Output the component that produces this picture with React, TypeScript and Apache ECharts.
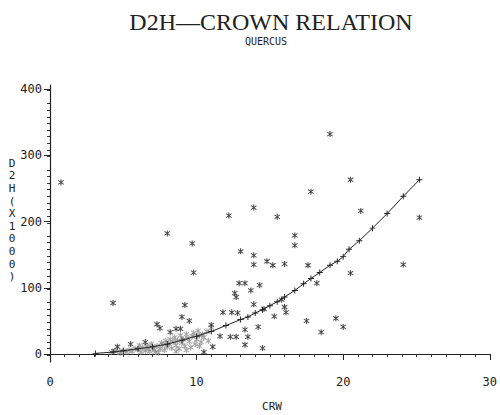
import React, { useEffect, useRef } from "react";
import * as echarts from "echarts";

const titleText = "D2H\u2014CROWN RELATION";
const subtitleText = "QUERCUS";
const xName = "CRW";
const yNameChars = ["D", "2", "H", "(", "X", "1", "0", "0", "0", ")"];

const xStep = 10;
const yStep = 100;
const yTicks = [0, 100, 200, 300, 400];

// scattered observations (CRW, D2H x1000)
const observed: [number, number][] = [
  [0.75, 259], [8.0, 182], [12.2, 209], [19.1, 332], [20.5, 263], [17.8, 245],
  [13.9, 221], [15.5, 207], [21.2, 216], [16.7, 179], [16.7, 164], [25.2, 206],
  [24.1, 135], [9.7, 167], [13.0, 155], [13.9, 149], [13.9, 135], [14.8, 140],
  [15.2, 134], [16.0, 136], [17.6, 134], [20.5, 122], [18.2, 107], [14.3, 104],
  [13.7, 96], [9.8, 123], [12.9, 107], [13.3, 107], [12.6, 92], [12.7, 86],
  [13.9, 75], [15.3, 57], [16.0, 71], [16.1, 63], [17.5, 50], [19.5, 54],
  [20.0, 41], [18.5, 33], [14.2, 41], [14.5, 9], [13.5, 26], [4.3, 77],
  [9.2, 74], [9.0, 56], [9.5, 50], [7.3, 45], [7.5, 39], [8.2, 33], [8.6, 38],
  [8.9, 38], [11.8, 63], [12.4, 63], [11.0, 44], [11.6, 27], [11.1, 11],
  [12.3, 26], [12.7, 26], [13.3, 14], [13.3, 37], [10.5, 3], [5.5, 15],
  [4.6, 11], [6.5, 18], [12.8, 62], [14.6, 68], [15.8, 82],
];

// dense low cluster (drawn greyish in the print)
const cluster: [number, number][] = [
  [4.2, 3], [4.4, 5], [4.6, 4], [4.8, 2], [5.0, 5], [5.2, 3], [5.4, 6], [5.6, 4],
  [5.8, 8], [6.0, 7], [6.2, 3], [6.3, 10], [6.5, 5], [6.6, 12], [6.7, 8], [6.8, 4],
  [6.9, 15], [7.0, 10], [7.1, 6], [7.2, 3], [7.3, 12], [7.5, 8], [7.6, 17],
  [7.7, 14], [7.8, 6], [7.9, 20], [8.0, 11], [8.1, 16], [8.2, 22], [8.3, 9],
  [8.4, 18], [8.5, 25], [8.6, 13], [8.7, 20], [8.8, 8], [8.9, 28], [9.0, 17],
  [9.1, 22], [9.2, 12], [9.3, 30], [9.4, 24], [9.5, 19], [9.6, 10], [9.7, 27],
  [9.8, 32], [9.9, 15], [10.0, 22], [10.1, 35], [10.2, 28], [10.3, 18],
  [10.4, 30], [10.5, 25], [10.7, 34], [10.8, 20], [11.0, 40], [6.1, 13],
  [7.4, 2], [8.6, 4], [9.3, 6], [10.2, 12],
];

// fitted curve
const fitted: [number, number][] = [
  [3.1, 1], [4.3, 3], [5.0, 5], [6.0, 8], [7.0, 11], [8.0, 15], [9.0, 21],
  [10.0, 27], [11.0, 34], [12.0, 43], [13.0, 52], [13.5, 56], [14.0, 62],
  [14.5, 67], [15.0, 73], [15.5, 79], [16.0, 86], [16.7, 96], [17.3, 106],
  [17.8, 114], [18.4, 123], [19.1, 134], [19.6, 140], [20.0, 147], [20.4, 158],
  [21.1, 171], [22.0, 190], [23.0, 212], [24.1, 238], [25.2, 263],
];

const asteriskPath =
  "path://M4.2,0H5.8V10H4.2Z M0.5,2.3L1.3,1L9.5,7.7L8.7,9Z M0.5,7.7L8.7,1L9.5,2.3L1.3,9Z";
const plusPath = "path://M4.2,0H5.8V10H4.2Z M0,4.2H10V5.8H0Z";

const monoFont = "'DejaVu Sans Mono', monospace";

export default function App() {
  const ref = useRef<HTMLDivElement>(null);
  useEffect(() => {
    if (!ref.current) return;
    const chart = echarts.init(ref.current, null, { renderer: "svg" });
    chart.setOption({
      animation: false,
      backgroundColor: "#ffffff",
      grid: { left: 50, right: 7, top: 85, bottom: 53 },
      graphic: [
        {
          type: "text",
          x: 271,
          y: 10,
          style: {
            text: titleText,
            font: "24px 'Liberation Serif', serif",
            fill: "#222",
            align: "center",
          },
        },
        {
          type: "text",
          x: 266,
          y: 36,
          style: {
            text: subtitleText,
            font: "10px " + monoFont,
            fill: "#222",
            align: "center",
          },
        },
        {
          type: "text",
          x: 12,
          y: 157,
          style: {
            text: yNameChars.join("\n"),
            font: "11px " + monoFont,
            lineHeight: 12.6,
            fill: "#222",
            align: "center",
          },
        },
        {
          type: "text",
          x: 272,
          y: 401,
          style: {
            text: xName,
            font: "11px " + monoFont,
            fill: "#222",
            align: "center",
          },
        },
      ],
      xAxis: [
        {
          type: "value",
          min: 0,
          max: 30,
          interval: xStep,
          splitLine: { show: false },
          axisLine: { lineStyle: { color: "#222", width: 1.2 } },
          axisTick: { length: 6, lineStyle: { color: "#222" } },
          minorTick: { show: true, splitNumber: 10, length: 3, lineStyle: { color: "#333" } },
          axisLabel: {
            margin: 14,
            color: "#222",
            fontFamily: monoFont,
            fontSize: 12,
          },
        },
      ],
      yAxis: [
        {
          type: "value",
          min: -12,
          max: 406,
          splitLine: { show: false },
          axisLine: { show: false },
          axisTick: { length: 6, customValues: yTicks, lineStyle: { color: "#222" } },
          axisLabel: {
            margin: 8,
            color: "#222",
            fontFamily: monoFont,
            fontSize: 12,
            customValues: yTicks,
          },
        },
        {
          type: "value",
          min: -12,
          max: 406,
          interval: yStep,
          position: "left",
          offset: 0,
          splitLine: { show: false },
          axisLine: { show: true, lineStyle: { color: "#222", width: 1.2 } },
          axisTick: { show: false },
          minorTick: { show: true, splitNumber: 10, length: 3, lineStyle: { color: "#333" } },
          axisLabel: { show: false },
        },
      ],
      series: [
        {
          type: "line",
          data: fitted,
          symbol: plusPath,
          symbolSize: 6,
          showSymbol: true,
          lineStyle: { color: "#222", width: 1 },
          itemStyle: { color: "#222" },
          z: 3,
        },
        {
          type: "scatter",
          data: cluster,
          symbol: asteriskPath,
          symbolSize: 6,
          itemStyle: { color: "#8a8a8a" },
          z: 2,
        },
        {
          type: "scatter",
          data: observed,
          symbol: asteriskPath,
          symbolSize: 6,
          itemStyle: { color: "#1a1a1a" },
          z: 4,
        },
      ],
    });
    return () => chart.dispose();
  }, []);
  return <div ref={ref} style={{ width: 500, height: 415, position: "absolute", left: 0, top: 0 }} />;
}
